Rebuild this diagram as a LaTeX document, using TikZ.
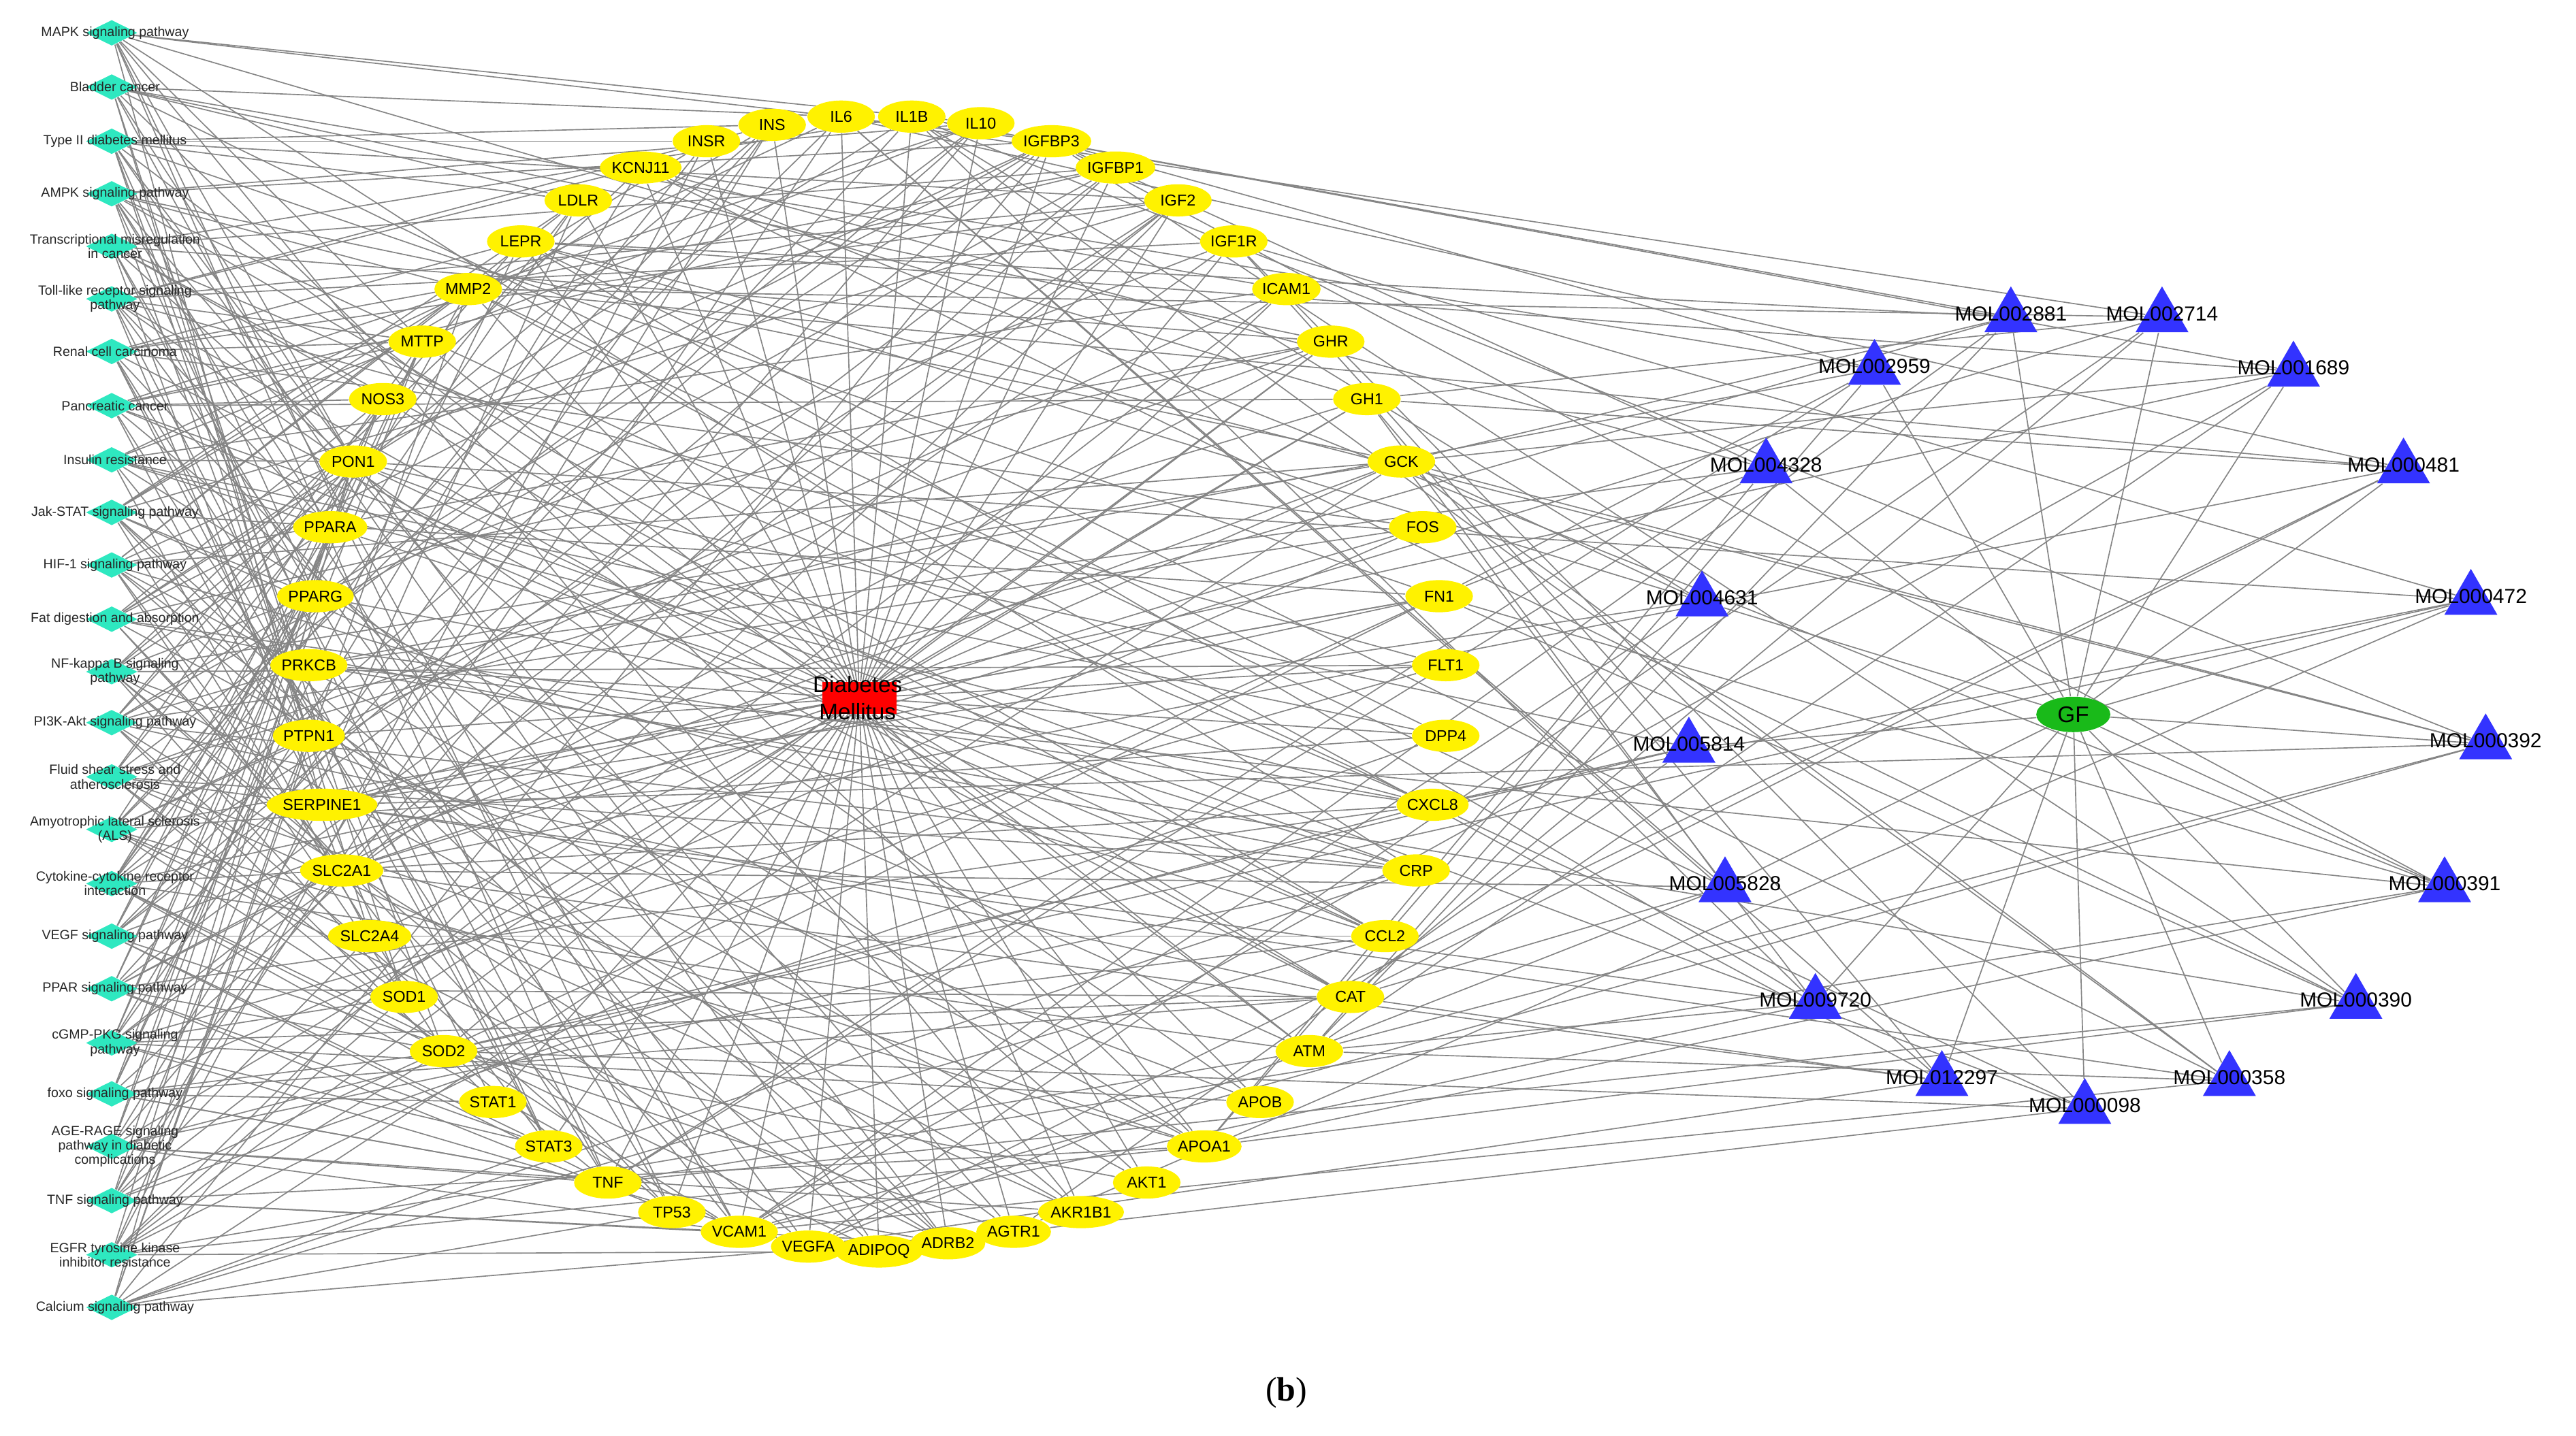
\documentclass[tikz,border=0pt]{standalone}
\usepackage{fontspec}
\setmainfont{Liberation Sans}
\newfontfamily\serifb{Liberation Serif}
\usetikzlibrary{shapes.geometric,backgrounds}
\begin{document}
\begin{tikzpicture}[x={(0.02551cm,0)},y={(0,-0.02551cm)},
  path/.style={diamond,aspect=2,minimum width=0.8cm,minimum height=0.4cm,inner sep=0pt},
  plab/.style={font=\fontsize{5.9}{6.4}\selectfont,align=center,text=black!85},
  gene/.style={ellipse,fill=yellow,minimum width=1.05cm,minimum height=0.5cm,inner sep=0pt,font=\fontsize{7}{8}\selectfont},
  mol/.style={regular polygon,regular polygon sides=3,fill=blue!80!white,minimum size=0.95cm,inner sep=0pt},
  mlab/.style={font=\fontsize{9}{10}\selectfont},
  edge/.style={draw=black!48,line width=0.5pt}]
\useasboundingbox (0,0) rectangle (1568,874);
\definecolor{pc}{HTML}{2EE8C0}
% pathways
\foreach \t/\y [count=\i] in {MAPK signaling pathway/20,Bladder cancer/53,Type II diabetes mellitus/86,AMPK signaling pathway/118,{Transcriptional misregulation\\in cancer}/150,{Toll-like receptor signaling\\pathway}/182,Renal cell carcinoma/214,Pancreatic cancer/247,Insulin resistance/280,Jak-STAT signaling pathway/312,HIF-1 signaling pathway/344,Fat digestion and absorption/377,{NF-kappa B signaling\\pathway}/409,PI3K-Akt signaling pathway/440,{Fluid shear stress and\\atherosclerosis}/473,{Amyotrophic lateral sclerosis\\(ALS)}/505,{Cytokine-cytokine receptor\\interaction}/538,VEGF signaling pathway/570,PPAR signaling pathway/602,{cGMP-PKG signaling\\pathway}/635,foxo signaling pathway/666,{AGE-RAGE signaling\\pathway in diabetic\\complications}/698,TNF signaling pathway/731,{EGFR tyrosine kinase\\inhibitor resistance}/764,Calcium signaling pathway/796}{
  \node[path,fill=pc] (p\i) at (68,\y) {};
  \node[plab] (pt\i) at (70,\y) {\t};
}
% genes
\foreach \n/\x/\y [count=\i] in {INSR/430/86,INS/470/76,IL6/512/71,IL1B/555/71,IL10/597/75,IGFBP3/640/86,IGFBP1/679/102,IGF2/717/122,IGF1R/751/147,ICAM1/783/176,GHR/810/208,GH1/832/243,GCK/853/281,FOS/866/321,FN1/876/363,FLT1/880/405,DPP4/880/448,CXCL8/872/490,CRP/862/530,CCL2/843/570,CAT/822/607,ATM/797/640,APOB/767/671,APOA1/733/698,AKT1/698/720,AKR1B1/658/738,AGTR1/617/750,ADRB2/577/757,ADIPOQ/535/762,VEGFA/492/759,VCAM1/450/750,TP53/409/738,TNF/370/720,STAT3/334/698,STAT1/300/671,SOD2/270/640,SOD1/246/607,SLC2A4/225/570,SLC2A1/208/530,SERPINE1/196/490,PTPN1/188/448,PRKCB/188/405,PPARG/192/363,PPARA/201/321,PON1/215/281,NOS3/233/243,MTTP/257/208,MMP2/285/176,LEPR/317/147,LDLR/352/122,KCNJ11/390/102}{
  \node[gene] (g\i) at (\x,\y) {\n};
}
% disease
\node[rectangle,fill=red,minimum width=1.15cm,minimum height=0.5cm,inner sep=0pt] (dm) at (523,425) {};
\node[font=\fontsize{10}{12}\selectfont,align=center] (dmt) at (522,425) {Diabetes\\Mellitus};
% GF
\node[ellipse,fill=green!70!black!90,minimum width=1.15cm,minimum height=0.55cm,inner sep=0pt,font=\fontsize{10}{12}\selectfont] (gf) at (1262,435) {GF};
% MOLs
\foreach \n/\x/\y [count=\i] in {MOL002881/1224/193,MOL002714/1316/193,MOL002959/1141/225,MOL001689/1396/226,MOL004328/1075/285,MOL000481/1463/285,MOL004631/1036/366,MOL000472/1504/365,MOL005814/1028/455,MOL000392/1513/453,MOL005828/1050/540,MOL000391/1488/540,MOL009720/1105/611,MOL000390/1434/611,MOL012297/1182/658,MOL000358/1357/658,MOL000098/1269/675}{
  \node[mol] (m\i) at (\x,\y) {};
  \node[mlab] (mt\i) at (\x,\y-2) {\n};
}
\node[font=\serifb\fontsize{15}{18}\selectfont] (cap) at (783,848) {(\textbf{b})};
\begin{pgfonlayer}{background}
\foreach \j in {1,...,51}{\draw[edge] (dm) -- (g\j);}
\foreach \i in {1,...,17}{\draw[edge] (gf) -- (m\i);}
\foreach \i in {1,...,25}{\foreach \j in {1,...,51}{%
  \pgfmathtruncatemacro\r{mod(5*\j+3*\i,7)}%
  \pgfmathtruncatemacro\s{mod(2*\j+\i*\i,13)}%
  \ifnum\r=0 \draw[edge] (p\i) -- (g\j);\else\ifnum\s=0 \draw[edge] (p\i) -- (g\j);\fi\fi}}
\foreach \i in {1,...,17}{\foreach \j in {1,...,51}{%
  \pgfmathtruncatemacro\r{mod(4*\j+\i*\i+\i,9)}%
  \ifnum\r=0 \draw[edge] (m\i) -- (g\j);\fi}}
\end{pgfonlayer}
\end{tikzpicture}
\end{document}
